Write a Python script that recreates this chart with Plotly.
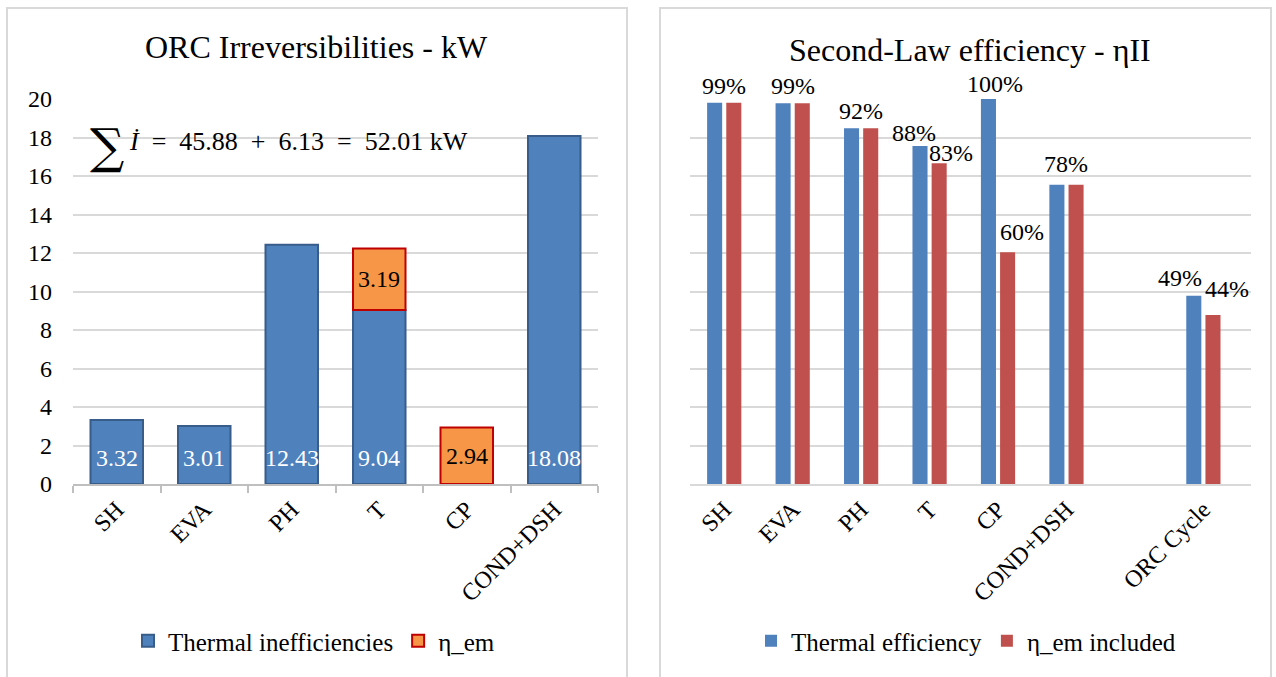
import plotly.graph_objects as go

# ---------------- data ----------------
left_categories = ["SH", "EVA", "PH", "T", "CP", "COND+DSH"]
thermal_inefficiencies = [3.32, 3.01, 12.43, 9.04, None, 18.08]
eta_em_losses = [None, None, None, 3.19, 2.94, None]

right_categories = ["SH", "EVA", "PH", "T", "CP", "COND+DSH", " ", "ORC Cycle"]
thermal_efficiency = [0.99, 0.989, 0.924, 0.878, 1.00, 0.777, None, 0.489]
eta_em_included = [0.99, 0.989, 0.924, 0.833, 0.602, 0.777, None, 0.439]

left_title = "ORC Irreversibilities - kW"
right_title = "Second-Law efficiency - ηII"
sum_text = "<i>İ</i>  =  45.88  +  6.13  =  52.01 kW"

FONT = "Liberation Serif"
BLUE = "#4F81BD"
BLUE_EDGE = "#385D8A"
ORANGE = "#F79646"
ORANGE_EDGE = "#C00000"
RED = "#C0504D"
GRID = "#D9D9D9"

W, H = 1276, 677

fig = go.Figure()

# ---------------- left chart ----------------
fig.add_trace(go.Bar(
    x=left_categories, y=thermal_inefficiencies, name="Thermal inefficiencies",
    marker=dict(color=BLUE, line=dict(color=BLUE_EDGE, width=2)),
    width=0.6, xaxis="x", yaxis="y", legend="legend",
))
base_for_em = [t if t is not None else 0 for t in thermal_inefficiencies]
fig.add_trace(go.Bar(
    x=left_categories, y=eta_em_losses, base=base_for_em, name="η_em",
    marker=dict(color=ORANGE, line=dict(color=ORANGE_EDGE, width=2)),
    width=0.6, xaxis="x", yaxis="y", legend="legend",
))

# ---------------- right chart ----------------
fig.add_trace(go.Bar(
    x=right_categories, y=thermal_efficiency, name="Thermal efficiency",
    marker=dict(color=BLUE, line=dict(width=0)),
    width=0.22, offset=-0.25, xaxis="x2", yaxis="y2", legend="legend2",
))
fig.add_trace(go.Bar(
    x=right_categories, y=eta_em_included, name="η_em included",
    marker=dict(color=RED, line=dict(width=0)),
    width=0.22, offset=0.03, xaxis="x2", yaxis="y2", legend="legend2",
))

LBL = 24
annotations = []
# left data labels
for i, (c, v) in enumerate(zip(left_categories, thermal_inefficiencies)):
    if v is not None:
        annotations.append(dict(x=c, y=0, xref="x", yref="y", text=f"{v:.2f}",
                                showarrow=False, yanchor="middle", yshift=26,
                                font=dict(family=FONT, size=LBL, color="white")))
for i, (c, v) in enumerate(zip(left_categories, eta_em_losses)):
    if v is not None:
        b = base_for_em[i]
        if b > 0:
            annotations.append(dict(x=c, y=b + v / 2, xref="x", yref="y", text=f"{v:.2f}",
                                    showarrow=False, yanchor="middle",
                                    font=dict(family=FONT, size=LBL, color="black")))
        else:
            annotations.append(dict(x=c, y=0, xref="x", yref="y", text=f"{v:.2f}",
                                    showarrow=False, yanchor="middle", yshift=28,
                                    font=dict(family=FONT, size=LBL, color="black")))

# right data labels (label offsets in category units, vertical offsets in px)
right_labels = [
    # (category index, value, x offset, y shift)
    (0, thermal_efficiency[0], 0.0, 17),
    (1, thermal_efficiency[1], 0.0, 17),
    (2, thermal_efficiency[2], 0.0, 17),
    (3, thermal_efficiency[3], -0.23, 13),
    (3, eta_em_included[3], 0.31, 10),
    (4, thermal_efficiency[4], -0.04, 15),
    (4, eta_em_included[4], 0.35, 20),
    (5, thermal_efficiency[5], 0.0, 21),
    (7, thermal_efficiency[7], -0.34, 18),
    (7, eta_em_included[7], 0.345, 26),
]
for idx, v, dx, ys in right_labels:
    annotations.append(dict(x=idx + dx, y=v, xref="x2", yref="y2", text=f"{v*100:.0f}%",
                            showarrow=False, yanchor="middle", yshift=ys,
                            font=dict(family=FONT, size=LBL, color="black")))

# titles
annotations.append(dict(x=316.5 / W, y=1 - 47 / H, xref="paper", yref="paper", text=left_title,
                        showarrow=False, xanchor="center", yanchor="middle",
                        font=dict(family=FONT, size=32, color="black")))
annotations.append(dict(x=969.5 / W, y=1 - 50 / H, xref="paper", yref="paper", text=right_title,
                        showarrow=False, xanchor="center", yanchor="middle",
                        font=dict(family=FONT, size=32, color="black")))
# sum formula
annotations.append(dict(x=106.5 / W, y=1 - 146 / H, xref="paper", yref="paper", text="∑",
                        showarrow=False, xanchor="center", yanchor="middle",
                        font=dict(family="DejaVu Serif", size=48, color="black")))
annotations.append(dict(x=127 / W, y=1 - 141 / H, xref="paper", yref="paper", text=sum_text,
                        showarrow=False, xanchor="left", yanchor="middle",
                        font=dict(family=FONT, size=26, color="black")))

shapes = [
    dict(type="rect", xref="paper", yref="paper", x0=7 / W, x1=627 / W, y0=-0.05, y1=1 - 8 / H,
         line=dict(color=GRID, width=2), fillcolor="rgba(0,0,0,0)", layer="below"),
    dict(type="rect", xref="paper", yref="paper", x0=660 / W, x1=1271 / W, y0=-0.05, y1=1 - 8 / H,
         line=dict(color=GRID, width=2), fillcolor="rgba(0,0,0,0)", layer="below"),
]

ydom = [1 - 484 / H, 1 - 99 / H]
tickfont = dict(family=FONT, size=24, color="black")
legfont = dict(family=FONT, size=25, color="black")

fig.update_layout(
    width=W, height=H,
    margin=dict(l=0, r=0, t=0, b=0, autoexpand=False),
    paper_bgcolor="white", plot_bgcolor="white",
    barmode="overlay",
    showlegend=True,
    annotations=annotations,
    shapes=shapes,
    xaxis=dict(domain=[73 / W, 598 / W], type="category", categoryorder="array",
               categoryarray=left_categories, tickangle=-45, tickfont=tickfont,
               showline=True, linecolor="#BFBFBF", linewidth=2,
               ticks="outside", tickson="boundaries", ticklen=7, tickcolor="#BFBFBF", tickwidth=2,
               showgrid=False, anchor="y", automargin=False),
    yaxis=dict(domain=ydom, range=[0, 20], dtick=2, tickfont=tickfont,
               showgrid=True, gridcolor=GRID, gridwidth=2, zeroline=False,
               showline=False, ticks="", ticklabelstandoff=20, anchor="x", automargin=False),
    xaxis2=dict(domain=[690 / W, 1251 / W], type="category", categoryorder="array",
                categoryarray=right_categories, tickangle=-45, tickfont=tickfont,
                showline=True, linecolor=GRID, linewidth=2, ticks="",
                showgrid=False, anchor="y2", automargin=False),
    yaxis2=dict(domain=ydom, range=[0, 1], dtick=0.1, showticklabels=False,
                showgrid=True, gridcolor=GRID, gridwidth=2, zeroline=False,
                showline=False, ticks="", anchor="x2", automargin=False),
    legend=dict(orientation="h", x=128 / W, y=1 - 641 / H, xanchor="left", yanchor="middle",
                font=legfont, itemwidth=30,
                bgcolor="rgba(0,0,0,0)", traceorder="normal"),
    legend2=dict(orientation="h", x=751 / W, y=1 - 641 / H, xanchor="left", yanchor="middle",
                 font=legfont, itemwidth=30,
                 bgcolor="rgba(0,0,0,0)", traceorder="normal"),
)

fig.write_html("out.html")
